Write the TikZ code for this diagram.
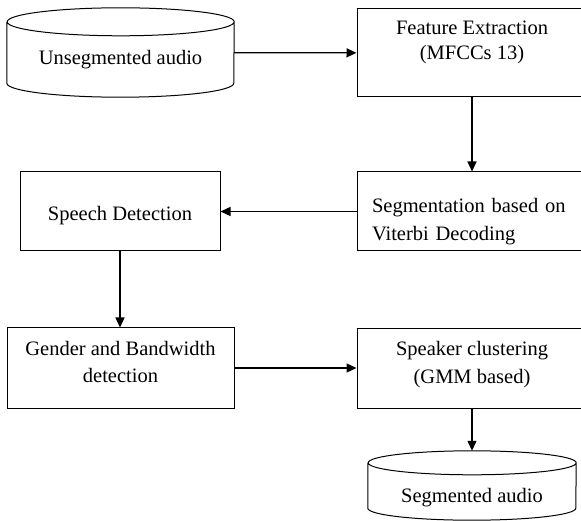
\documentclass[tikz,border=0pt]{standalone}
\usepackage{fontspec}
\setmainfont{Liberation Serif}
\usetikzlibrary{positioning, arrows.meta, calc}

\begin{document}
\begin{tikzpicture}[x=1pt, y=-1pt]
	\tikzset{
		block/.style={draw, line width=1pt, rectangle, minimum width=230pt, minimum height=79pt, inner sep=0pt, align=center, font=\fontsize{20.5}{27}\selectfont},
		store/.style={rectangle, inner sep=0pt, font=\fontsize{20.5}{26}\selectfont},
		rim/.style={line width=1pt},
		flow/.style={-{Triangle[length=10pt, width=9pt]}, line width=1.3pt}
	}
	\clip (0,0) rectangle (581,521);
	% top row
	\node[store, minimum width=227pt, minimum height=61pt, text height=27.5pt] (unseg) at (120.5, 52.5) {Unsegmented audio};
	\draw[rim] (unseg.north west) -- (unseg.south west) arc[start angle=180, end angle=360, x radius=113.5pt, y radius=14pt] -- (unseg.north east) arc[start angle=0, end angle=360, x radius=113.5pt, y radius=14pt];
	\node[block, minimum height=88pt, text height=18pt, font=\fontsize{20.5}{25}\selectfont] (feat) at (472, 53) {Feature Extraction\\(MFCCs 13)};
	% middle row
	\node[block, text width=200pt, inner xsep=15pt, align=left, text depth=13pt, font=\fontsize{20.5}{28}\selectfont] (seg) at (472, 211.5) {Segmentation based on\\Viterbi Decoding};
	\node[block, minimum width=200pt, text height=21.5pt] (speech) at (120, 211.5) {Speech Detection};
	% bottom row
	\node[block, minimum width=227pt, minimum height=80pt, text depth=13pt] (gender) at (120.5, 368) {Gender and Bandwidth\\detection};
	\node[block, text depth=13pt, font=\fontsize{20.5}{28}\selectfont] (spk) at (472, 368.5) {Speaker clustering\\(GMM based)};
	\node[store, minimum width=208pt, minimum height=45pt, text height=37.5pt] (segaud) at (472, 485.5) {Segmented audio};
	\draw[rim] (segaud.north west) -- (segaud.south west) arc[start angle=180, end angle=360, x radius=104pt, y radius=12pt] -- (segaud.north east) arc[start angle=0, end angle=360, x radius=104pt, y radius=12pt];
	\coordinate (segtop) at ([yshift=12pt]segaud.north);

	\draw[flow] (unseg) -- (feat);
	\draw[flow] (feat) -- (seg);
	\draw[flow] (seg) -- (speech);
	\draw[flow] (speech.south) -- (speech.south |- gender.north);
	\draw[flow] (gender.east) -- (gender.east -| spk.west);
	\draw[flow] (spk.south -| segtop) -- (segtop);
\end{tikzpicture}
\end{document}
